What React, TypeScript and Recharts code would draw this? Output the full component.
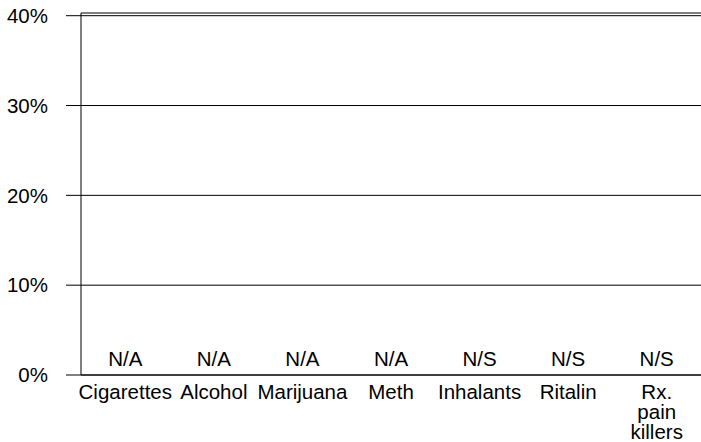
import { ComposedChart, Line, XAxis, YAxis, CartesianGrid, LabelList, Text } from "recharts";

const categories = [
  "Cigarettes",
  "Alcohol",
  "Marijuana",
  "Meth",
  "Inhalants",
  "Ritalin",
  "Rx. pain killers",
];

// no values were reported: every category shows N/A or N/S at the baseline
const values = [0, 0, 0, 0, 0, 0, 0];
const statusLabels = ["N/A", "N/A", "N/A", "N/A", "N/S", "N/S", "N/S"];
const yTicks = [0, 10, 20, 30, 40];

const FONT = "'Liberation Sans', Arial, sans-serif";
const FONT_SIZE = 20.5;

const data = categories.map((name, i) => ({
  name,
  value: values[i],
  status: statusLabels[i],
}));

function CategoryTick({ x, y, payload }: any) {
  return (
    <Text
      x={x}
      y={y}
      width={40}
      textAnchor="middle"
      verticalAnchor="start"
      lineHeight={20}
      fontSize={FONT_SIZE}
      fontFamily={FONT}
      fill="#000"
    >
      {payload.value}
    </Text>
  );
}

export default function App() {
  return (
    <div style={{ position: "absolute", left: 0, top: 0, background: "#fff" }}>
      <ComposedChart
        width={701}
        height={442}
        data={data}
        margin={{ top: 13, right: 0, bottom: 0, left: 0 }}
      >
        <CartesianGrid vertical={false} stroke="#000" strokeOpacity={1} />
        <XAxis
          xAxisId="top"
          orientation="top"
          dataKey="name"
          scale="band"
          height={0}
          tick={false}
          tickLine={false}
          axisLine={{ stroke: "#000" }}
        />
        <XAxis
          xAxisId="bottom"
          dataKey="name"
          scale="band"
          height={67}
          interval={0}
          tickLine={false}
          tickSize={0}
          tickMargin={9}
          axisLine={{ stroke: "#000" }}
          tick={<CategoryTick />}
        />
        <YAxis
          width={81}
          domain={[0, 40.3]}
          ticks={yTicks}
          allowDataOverflow
          tickFormatter={(v: number) => `${v}%`}
          tickSize={15}
          tickMargin={18}
          axisLine={{ stroke: "#000" }}
          tickLine={{ stroke: "#000" }}
          tick={{ fill: "#000", fontSize: FONT_SIZE, fontFamily: FONT }}
        />
        <Line
          xAxisId="bottom"
          dataKey="value"
          stroke="none"
          dot={false}
          activeDot={false}
          isAnimationActive={false}
        >
          <LabelList
            dataKey="status"
            position="top"
            offset={9}
            fill="#000"
            fontSize={FONT_SIZE}
            fontFamily={FONT}
          />
        </Line>
      </ComposedChart>
    </div>
  );
}
